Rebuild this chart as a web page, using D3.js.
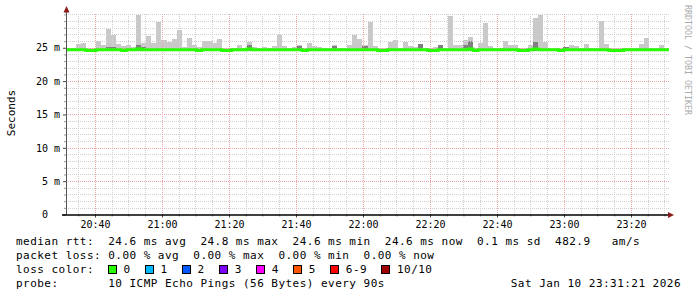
<!DOCTYPE html>
<html>
<head>
<meta charset="utf-8">
<script src="https://cdn.jsdelivr.net/npm/d3@7"></script>
<style>
html, body { margin: 0; padding: 0; background: #fff; }
svg text { font-family: "DejaVu Sans Mono", monospace; white-space: pre; }
</style>
</head>
<body>
<svg id="chart" width="697" height="297"></svg>
<script>
// one sample every 90 s, 3 hours ending at 23:31:21
const startTime = new Date(Date.UTC(2026, 0, 10, 20, 31, 21));
const stepSeconds = 90;

// median rtt per sample (ms)
const medianRtt = [
  24.7, 24.7, 24.7, 24.7, 24.6, 24.6, 24.7, 24.7, 24.7, 24.7,
  24.7, 24.6, 24.7, 24.7, 24.8, 24.7, 24.7, 24.7, 24.7, 24.7,
  24.7, 24.7, 24.7, 24.7, 24.7, 24.7, 24.6, 24.7, 24.7, 24.7,
  24.7, 24.6, 24.6, 24.7, 24.7, 24.7, 24.8, 24.7, 24.7, 24.7,
  24.7, 24.7, 24.7, 24.7, 24.7, 24.7, 24.7, 24.6, 24.7, 24.7,
  24.7, 24.7, 24.7, 24.7, 24.7, 24.7, 24.7, 24.7, 24.7, 24.7,
  24.7, 24.7, 24.6, 24.6, 24.7, 24.7, 24.7, 24.7, 24.7, 24.7,
  24.7, 24.7, 24.6, 24.6, 24.7, 24.7, 24.7, 24.7, 24.7, 24.7,
  24.8, 24.6, 24.7, 24.7, 24.7, 24.7, 24.7, 24.7, 24.7, 24.7,
  24.6, 24.6, 24.7, 24.8, 24.7, 24.7, 24.7, 24.7, 24.6, 24.7,
  24.7, 24.7, 24.7, 24.7, 24.7, 24.7, 24.7, 24.7, 24.6, 24.6,
  24.6, 24.7, 24.7, 24.7, 24.7, 24.7, 24.7, 24.7, 24.7, 24.7
];

// slowest ping per sample (top of the smoke)
const pingMax = [
  25.0, 25.0, 25.6, 25.75, 25.0, 24.9, 26.05, 25.45, 27.8, 26.9,
  25.6, 25.3, 25.45, 25.1, 29.9, 25.7, 26.8, 25.75, 28.9, 26.2,
  25.8, 26.35, 27.7, 25.1, 26.5, 25.45, 25.05, 25.95, 26.05, 25.75,
  26.35, 25.0, 24.95, 25.0, 25.4, 25.0, 25.85, 25.15, 25.0, 25.1,
  25.0, 25.25, 26.9, 25.25, 25.0, 25.1, 25.4, 25.0, 25.65, 25.25,
  25.1, 25.0, 25.0, 25.4, 25.0, 25.0, 25.4, 26.9, 26.3, 25.4,
  28.85, 25.25, 25.0, 25.0, 25.85, 26.15, 25.0, 25.85, 25.25, 25.15,
  25.55, 25.0, 25.0, 25.15, 25.4, 25.0, 29.75, 25.4, 25.4, 26.15,
  26.55, 25.0, 25.7, 28.75, 25.2, 25.0, 25.0, 26.05, 25.4, 25.4,
  25.0, 25.0, 25.4, 29.45, 29.9, 25.9, 25.0, 25.0, 25.0, 25.1,
  25.4, 25.2, 25.0, 25.55, 25.0, 25.0, 29.0, 25.55, 25.0, 25.0,
  25.0, 25.0, 25.0, 25.0, 25.55, 26.5, 25.0, 25.0, 25.4, 25.0
];

// fastest ping per sample (bottom of the smoke)
const pingMin = [
  24.5, 24.5, 24.5, 24.5, 24.5, 24.4, 24.5, 24.5, 24.5, 24.5,
  24.5, 24.4, 24.5, 24.5, 24.5, 24.5, 24.5, 24.5, 24.5, 24.5,
  24.5, 24.5, 24.5, 24.5, 24.5, 24.5, 24.5, 24.5, 24.5, 24.5,
  24.5, 24.5, 24.5, 24.5, 24.5, 24.5, 24.5, 24.5, 24.5, 24.5,
  24.5, 24.5, 24.5, 24.5, 24.5, 24.5, 24.5, 24.5, 24.5, 24.5,
  24.5, 24.5, 24.5, 24.5, 24.5, 24.5, 24.5, 24.5, 24.5, 24.5,
  24.5, 24.5, 24.5, 24.5, 24.5, 24.5, 24.5, 24.5, 24.5, 24.5,
  24.5, 24.5, 24.4, 24.4, 24.5, 24.5, 24.5, 24.5, 24.5, 24.5,
  24.5, 24.5, 24.5, 24.5, 24.5, 24.5, 24.5, 24.5, 24.5, 24.5,
  24.5, 24.5, 24.5, 24.5, 24.5, 24.5, 24.5, 24.5, 24.5, 24.5,
  24.5, 24.5, 24.5, 24.5, 24.5, 24.5, 24.5, 24.5, 24.5, 24.5,
  24.5, 24.5, 24.5, 24.5, 24.5, 24.5, 24.5, 24.5, 24.5, 24.5
];

// top of the dense (dark) part of the smoke, null where it stays under the median
const innerTop = [
  null, null, null, null, null, null, null, null, 25.1, 25.1,
  null, null, null, null, 25.4, 25.1, null, null, null, null,
  null, null, null, null, null, null, null, null, null, null,
  null, null, null, null, null, null, 25.45, null, null, null,
  null, null, null, null, null, null, 25.2, null, null, null,
  null, null, null, 25.2, null, null, null, null, null, 25.3,
  null, null, null, null, null, null, null, null, null, null,
  25.55, null, null, null, 25.4, null, null, null, null, 25.4,
  26.05, null, null, null, null, null, null, null, null, null,
  null, null, null, 25.9, null, null, null, null, null, 25.1,
  null, null, null, null, null, null, null, null, null, null,
  null, null, null, null, null, null, null, null, null, null
];

const yTicks = [0, 5, 10, 15, 20, 25];

const lossLabels = ["0", "1", "2", "3", "4", "5", "6-9", "10/10"];
const lossColors = ["#26ff00", "#00b8ff", "#0059ff", "#7e00ff", "#ff00ff", "#ff5500", "#ff0000", "#a10000"];

const medianLegend = "median rtt:  24.6 ms avg  24.8 ms max  24.6 ms min  24.6 ms now  0.1 ms sd  482.9   am/s";
const lossLegend = "packet loss: 0.00 % avg  0.00 % max  0.00 % min  0.00 % now";
const probeLegend = "probe:       10 ICMP Echo Pings (56 Bytes) every 90s";
const dateLegend = "Sat Jan 10 23:31:21 2026";

const svg = d3.select('#chart');

const plotLeft = 66, plotRight = 669, plotTop = 14.4, plotBottom = 214.5;
const charW = 7.05;

const timeAt = i => new Date(startTime.getTime() + i * stepSeconds * 1000);
const endTime = timeAt(medianRtt.length);

const x = d3.scaleUtc().domain([startTime, endTime]).range([plotLeft, plotRight]);
const y = d3.scaleLinear().domain([0, 30]).range([plotBottom, plotTop]);

// smoke
let smoke = svg.append('g').attr('shape-rendering', 'crispEdges');
smoke.selectAll('rect.outer')
    .data(pingMax)
    .enter()
    .append('rect')
    .attr('class', 'outer')
    .attr('x', (d, i) => x(timeAt(i)))
    .attr('width', (d, i) => x(timeAt(i + 1)) - x(timeAt(i)))
    .attr('y', d => y(d))
    .attr('height', (d, i) => y(pingMin[i]) - y(d))
    .style('fill', '#c9c9c9');

smoke.selectAll('rect.inner')
    .data(innerTop.map((v, i) => ({v, i})).filter(e => e.v !== null))
    .enter()
    .append('rect')
    .attr('class', 'inner')
    .attr('x', e => x(timeAt(e.i)))
    .attr('width', e => x(timeAt(e.i + 1)) - x(timeAt(e.i)))
    .attr('y', e => y(e.v))
    .attr('height', e => y(pingMin[e.i]) - y(e.v))
    .style('fill', '#808080');

// grid, drawn over the smoke like rrdtool does
let grid = svg.append('g').attr('shape-rendering', 'crispEdges');
let minorY = d3.range(1, 31).filter(v => v % 5 !== 0 || v === 30);
let majorY = yTicks.filter(v => v > 0);
let minorX = x.ticks(d3.utcMinute.every(5)).filter(t => t.getUTCMinutes() % 20 !== 0);
let majorX = x.ticks(d3.utcMinute.every(20));

grid.selectAll('line.hmin').data(minorY).enter().append('line')
    .attr('x1', plotLeft).attr('x2', plotRight)
    .attr('y1', d => Math.round(y(d)) + 0.5).attr('y2', d => Math.round(y(d)) + 0.5)
    .style('stroke', '#cfcfcf').style('stroke-dasharray', '1,1');
grid.selectAll('line.vmin').data(minorX).enter().append('line')
    .attr('x1', d => Math.round(x(d)) + 0.5).attr('x2', d => Math.round(x(d)) + 0.5)
    .attr('y1', plotTop).attr('y2', plotBottom)
    .style('stroke', '#cfcfcf').style('stroke-dasharray', '1,1');
grid.selectAll('line.hmaj').data(majorY).enter().append('line')
    .attr('x1', plotLeft).attr('x2', plotRight)
    .attr('y1', d => Math.round(y(d)) + 0.5).attr('y2', d => Math.round(y(d)) + 0.5)
    .style('stroke', '#eba5a5').style('stroke-dasharray', '1,1');
grid.selectAll('line.vmaj').data(majorX).enter().append('line')
    .attr('x1', d => Math.round(x(d)) + 0.5).attr('x2', d => Math.round(x(d)) + 0.5)
    .attr('y1', plotTop).attr('y2', plotBottom)
    .style('stroke', '#eba5a5').style('stroke-dasharray', '1,1');

// median line (loss colour 0)
let points = medianRtt.map((v, i) => [timeAt(i), v]);
points.push([endTime, medianRtt[medianRtt.length - 1]]);
svg.append('path')
    .datum(points)
    .attr('d', d3.line().x(d => x(d[0])).y(d => y(d[1])).curve(d3.curveStepAfter))
    .style('fill', 'none')
    .style('stroke', lossColors[0])
    .style('stroke-width', 3);

// axes
let xAxis = d3.axisBottom(x)
    .tickValues(majorX)
    .tickFormat(d3.utcFormat('%H:%M'))
    .tickSize(3)
    .tickPadding(3);
let xg = svg.append('g')
    .attr('transform', `translate(0,${plotBottom})`)
    .style('color', '#444')
    .call(xAxis);
xg.select('.domain').remove();
xg.selectAll('text').style('font-size', '10px').style('fill', '#000')
    .style('font-family', '"DejaVu Sans Mono", monospace');

let xMinorAxis = d3.axisBottom(x).tickValues(minorX).tickSize(2).tickFormat('');
svg.append('g').attr('transform', `translate(0,${plotBottom})`).style('color', '#888')
    .call(xMinorAxis).select('.domain').remove();

let yAxis = d3.axisLeft(y)
    .tickValues(yTicks)
    .tickFormat(d => d === 0 ? '0  ' : d + ' m')
    .tickSize(3)
    .tickPadding(3);
let yg = svg.append('g')
    .attr('transform', `translate(${plotLeft},0)`)
    .style('color', '#444')
    .call(yAxis);
yg.select('.domain').remove();
yg.selectAll('text').style('font-size', '10px').style('fill', '#000')
    .style('font-family', '"DejaVu Sans Mono", monospace');

let yMinorAxis = d3.axisLeft(y).tickValues(minorY).tickSize(2).tickFormat('');
svg.append('g').attr('transform', `translate(${plotLeft},0)`).style('color', '#999')
    .call(yMinorAxis).select('.domain').remove();

// axis lines and arrows
svg.append('line')
    .attr('x1', plotLeft + 0.5).attr('x2', plotLeft + 0.5)
    .attr('y1', plotBottom).attr('y2', 9)
    .style('stroke', '#555');
svg.append('line')
    .attr('x1', plotLeft - 4).attr('x2', plotRight + 1)
    .attr('y1', plotBottom + 0.5).attr('y2', plotBottom + 0.5)
    .style('stroke', '#000').style('stroke-width', 1.3);
svg.append('path')
    .attr('d', `M${plotLeft + 0.5},6 L${plotLeft - 2.5},12.5 L${plotLeft + 3.5},12.5 Z`)
    .style('fill', '#8c1c1c');
svg.append('path')
    .attr('d', `M${plotRight + 5},${plotBottom + 0.5} L${plotRight - 1},${plotBottom - 2.5} L${plotRight - 1},${plotBottom + 3.5} Z`)
    .style('fill', '#8c1c1c');

// vertical label and watermark
svg.append('text')
    .attr('transform', 'translate(15,113) rotate(-90)')
    .attr('text-anchor', 'middle')
    .style('font-size', '11px')
    .style('fill', '#000')
    .text('Seconds');

svg.append('text')
    .attr('transform', 'translate(685,5) rotate(90)')
    .style('font-size', '8.3px')
    .style('fill', '#aaaaaa')
    .text('RRDTOOL / TOBI OETIKER');

// legend
let legend = svg.append('g')
    .style('font-size', '11px')
    .style('letter-spacing', '0.47px')
    .style('fill', '#000');

legend.append('text').attr('x', 16).attr('y', 245).text(medianLegend);
legend.append('text').attr('x', 16).attr('y', 259).text(lossLegend);
legend.append('text').attr('x', 16).attr('y', 273).text('loss color:');
legend.append('text').attr('x', 16).attr('y', 287).text(probeLegend);
legend.append('text').attr('x', 681).attr('y', 287).attr('text-anchor', 'end').text(dateLegend);

// each swatch entry: box, label, then a fixed gap before the next box
let swatchX = [];
lossLabels.reduce((acc, lbl) => { swatchX.push(acc); return acc + 30 + lbl.length * charW; }, 108.5);

let swatch = legend.selectAll('g.loss')
    .data(lossLabels)
    .enter()
    .append('g')
    .attr('transform', (d, i) => `translate(${swatchX[i]},265.5)`);
swatch.append('rect')
    .attr('width', 8).attr('height', 8)
    .attr('shape-rendering', 'crispEdges')
    .style('fill', (d, i) => lossColors[i])
    .style('stroke', '#000')
    .style('stroke-width', 1);
swatch.append('text')
    .attr('x', 15).attr('y', 7.5)
    .text(d => d);
</script>
</body>
</html>
